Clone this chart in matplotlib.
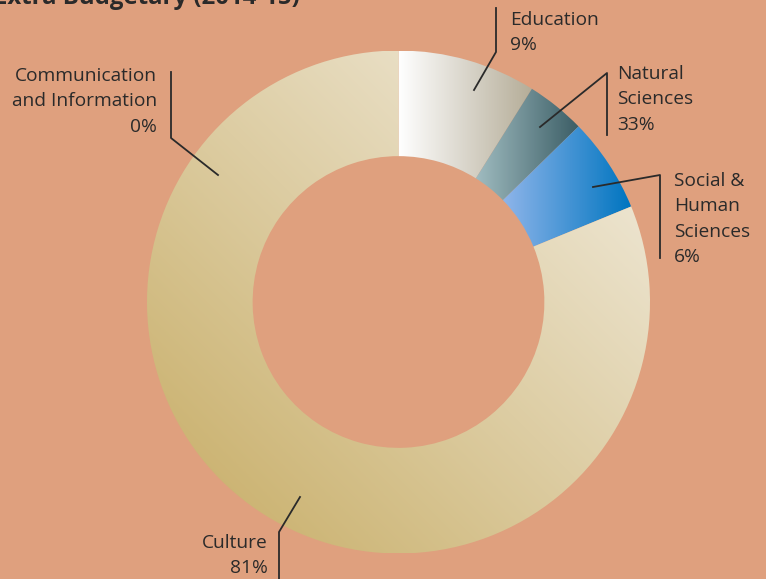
import matplotlib.pyplot as plt
import numpy as np
from matplotlib.colors import LinearSegmentedColormap

# data
categories = ['Education', 'Natural Sciences', 'Social & Human Sciences', 'Culture', 'Communication and Information']
shares = [8.9, 3.8, 6.1, 81.2, 0.0]
label_texts = ['Education\n9%', 'Natural\nSciences\n33%', 'Social &\nHuman\nSciences\n6%', 'Culture\n81%',
               'Communication\nand Information\n0%']

# gradient colours per slice (start, end)
grads = [('#ffffff', '#b5ad98'), ('#a0bcc0', '#3c5e66'), ('#8fb5ea', '#0075c0'),
         ('#f4efe4', '#c6ab62'), ('#f4efe4', '#c6ab62')]

bg = '#dfa07e'
plt.rcParams['font.family'] = ['Open Sans', 'DejaVu Sans']

fig = plt.figure(figsize=(7.66, 5.79), dpi=100)
fig.patch.set_facecolor(bg)

# pie axes placed in pixels: centre (398.5, 302), radius 251.5
W, H = 766, 579
cx, cy, r = 398.5, 302, 251.5
ax = fig.add_axes([(cx - r) / W, (H - cy - r) / H, 2 * r / W, 2 * r / H])
wedges, _ = ax.pie(shares, startangle=90, counterclock=False, radius=1,
                   wedgeprops=dict(width=0.42, linewidth=0))
ax.set_xlim(-1, 1)
ax.set_ylim(-1, 1)
ax.set_aspect('equal')
ax.axis('off')

xx, yy = np.meshgrid(np.linspace(-1, 1, 400), np.linspace(-1, 1, 400))
for i, w in enumerate(wedges):
    if shares[i] == 0:
        continue
    w.set_facecolor('none')
    cmap = LinearSegmentedColormap.from_list('g%d' % i, grads[i])
    if categories[i] == 'Culture':
        t = (2 - (xx + yy)) / 4
    else:
        th1, th2 = np.deg2rad(w.theta1), np.deg2rad(w.theta2)
        xs = [np.cos(th1), np.cos(th2), 0.58 * np.cos(th1), 0.58 * np.cos(th2)]
        t = (xx - min(xs)) / (max(xs) - min(xs))
    im = ax.imshow(np.clip(t, 0, 1), cmap=cmap, extent=(-1, 1, -1, 1), origin='lower',
                   vmin=0, vmax=1, interpolation='bilinear')
    im.set_clip_path(w)

# overlay for leader lines and labels, in pixel coordinates
ov = fig.add_axes([0, 0, 1, 1], facecolor='none')
ov.set_xlim(0, W)
ov.set_ylim(H, 0)
ov.axis('off')

lc = '#2a2a2a'
leaders = [
    ([171, 171, 218], [72, 138, 175]),
    ([496, 496, 474], [8, 52, 90]),
    ([540, 607, 607], [127, 73, 135]),
    ([593, 660, 660], [187, 175, 258]),
    ([300, 279, 279], [497, 532, 579]),
]
for xs, ys in leaders:
    ov.plot(xs, ys, color=lc, lw=1.3)

fs = 13.8
ls = 1.52
tc = '#2a2a2a'
ov.text(157, 67, label_texts[4], ha='right', va='top', fontsize=fs, color=tc, linespacing=ls)
ov.text(510, 11, label_texts[0], ha='left', va='top', fontsize=fs, color=tc, linespacing=ls)
ov.text(617, 65, label_texts[1], ha='left', va='top', fontsize=fs, color=tc, linespacing=ls)
ov.text(674, 172, label_texts[2], ha='left', va='top', fontsize=fs, color=tc, linespacing=ls)
ov.text(268, 534, label_texts[3], ha='right', va='top', fontsize=fs, color=tc, linespacing=ls)

ov.text(-6, 4, 'Extra Budgetary (2014-15)', ha='left', va='baseline', fontsize=17.3,
        fontweight='bold', color='#2a2a2a')

fig.savefig('out.png', dpi=100, facecolor=bg)
